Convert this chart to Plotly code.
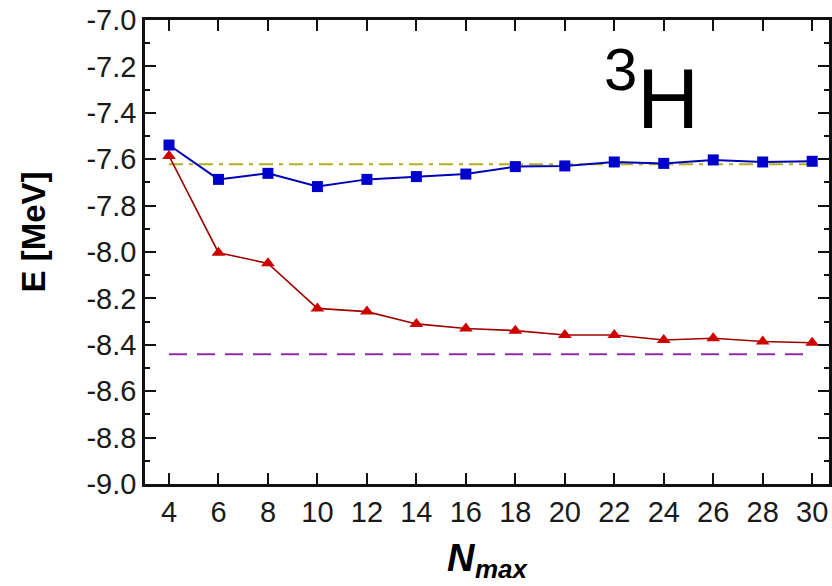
import plotly.graph_objects as go

# Model-space truncation N_max and ground-state energies of 3H
n_max = [4, 6, 8, 10, 12, 14, 16, 18, 20, 22, 24, 26, 28, 30]
e_blue = [-7.539, -7.687, -7.661, -7.718, -7.687, -7.675, -7.664,
          -7.632, -7.629, -7.612, -7.618, -7.603, -7.612, -7.609]
e_red = [-7.586, -8.003, -8.049, -8.243, -8.257, -8.310, -8.330,
         -8.339, -8.358, -8.358, -8.379, -8.372, -8.386, -8.391]

# Horizontal reference energies
ref_dashdot = -7.622
ref_dashed = -8.441
ref_span = [4, 30]

y_ticks = [-7.0, -7.2, -7.4, -7.6, -7.8, -8.0, -8.2, -8.4, -8.6, -8.8, -9.0]
x_ticks = list(range(4, 31, 2))

W, H = 832, 586
L, R, T, B = 145, 0, 20, 102

fig = go.Figure()

fig.add_trace(go.Scatter(
    x=ref_span, y=[ref_dashdot] * 2, mode="lines",
    line=dict(color="#b0b020", width=2, dash="14px,6px,4px,6px"),
    hoverinfo="skip", showlegend=False))
fig.add_trace(go.Scatter(
    x=ref_span, y=[ref_dashed] * 2, mode="lines",
    line=dict(color="#8e2ea6", width=2, dash="18px,10px"),
    hoverinfo="skip", showlegend=False))

fig.add_trace(go.Scatter(
    x=n_max, y=e_red, mode="lines+markers",
    line=dict(color="#a00000", width=1.6),
    marker=dict(symbol="triangle-up", size=12, color="#cc0000",
                line=dict(width=0)),
    showlegend=False))
fig.add_trace(go.Scatter(
    x=n_max, y=e_blue, mode="lines+markers",
    line=dict(color="#0000b4", width=2),
    marker=dict(symbol="square", size=11, color="#0000cc",
                line=dict(width=0)),
    showlegend=False))

tick_font = dict(family="Liberation Sans, Arial, sans-serif", size=29,
                 color="#1a1a1a")

fig.update_xaxes(
    range=[3.03, 30.68], tickvals=x_ticks,
    ticktext=[str(v) for v in x_ticks],
    ticks="inside", ticklen=11, tickwidth=2, tickcolor="#111111",
    showline=True, linewidth=2.5, linecolor="#111111", mirror="ticks",
    showgrid=False, zeroline=False, tickfont=tick_font)
fig.update_yaxes(
    range=[-9.0, -7.0], tickvals=y_ticks,
    ticktext=[f"{v:.1f}" for v in y_ticks],
    ticks="inside", ticklen=11, tickwidth=2, tickcolor="#111111",
    minor=dict(dtick=0.1, ticks="inside", ticklen=5, tickwidth=2,
               tickcolor="#111111", showgrid=False),
    showline=True, linewidth=2.5, linecolor="#111111", mirror="ticks",
    showgrid=False, zeroline=False, tickfont=tick_font)


def px_x(p):
    return (p - L) / (W - L - R)


def px_y(p):
    return (H - B - p) / (H - T - B)


ann_font = "Liberation Sans, Arial, sans-serif"
annotations = [
    dict(text="3", x=px_x(623), y=px_y(69), size=60, bold=False, italic=False),
    dict(text="H", x=px_x(670), y=px_y(98), size=86, bold=False, italic=False),
    dict(text="N", x=px_x(463), y=px_y(558), size=38, bold=True, italic=True),
    dict(text="max", x=px_x(504), y=px_y(569), size=26, bold=True, italic=True),
]
for a in annotations:
    txt = a["text"]
    if a["italic"]:
        txt = f"<i>{txt}</i>"
    if a["bold"]:
        txt = f"<b>{txt}</b>"
    fig.add_annotation(text=txt, x=a["x"], y=a["y"], xref="paper",
                       yref="paper", showarrow=False, xanchor="center",
                       yanchor="middle",
                       font=dict(family=ann_font, size=a["size"],
                                 color="#000000"))

fig.add_annotation(text="<b>E [MeV]</b>", x=px_x(33), y=px_y(232),
                   xref="paper", yref="paper", showarrow=False,
                   textangle=-90, xanchor="center", yanchor="middle",
                   font=dict(family=ann_font, size=33, color="#000000"))

fig.update_layout(
    width=W, height=H,
    margin=dict(l=L, r=R, t=T, b=B),
    paper_bgcolor="white", plot_bgcolor="white",
    showlegend=False)

fig.write_html("out.html")
